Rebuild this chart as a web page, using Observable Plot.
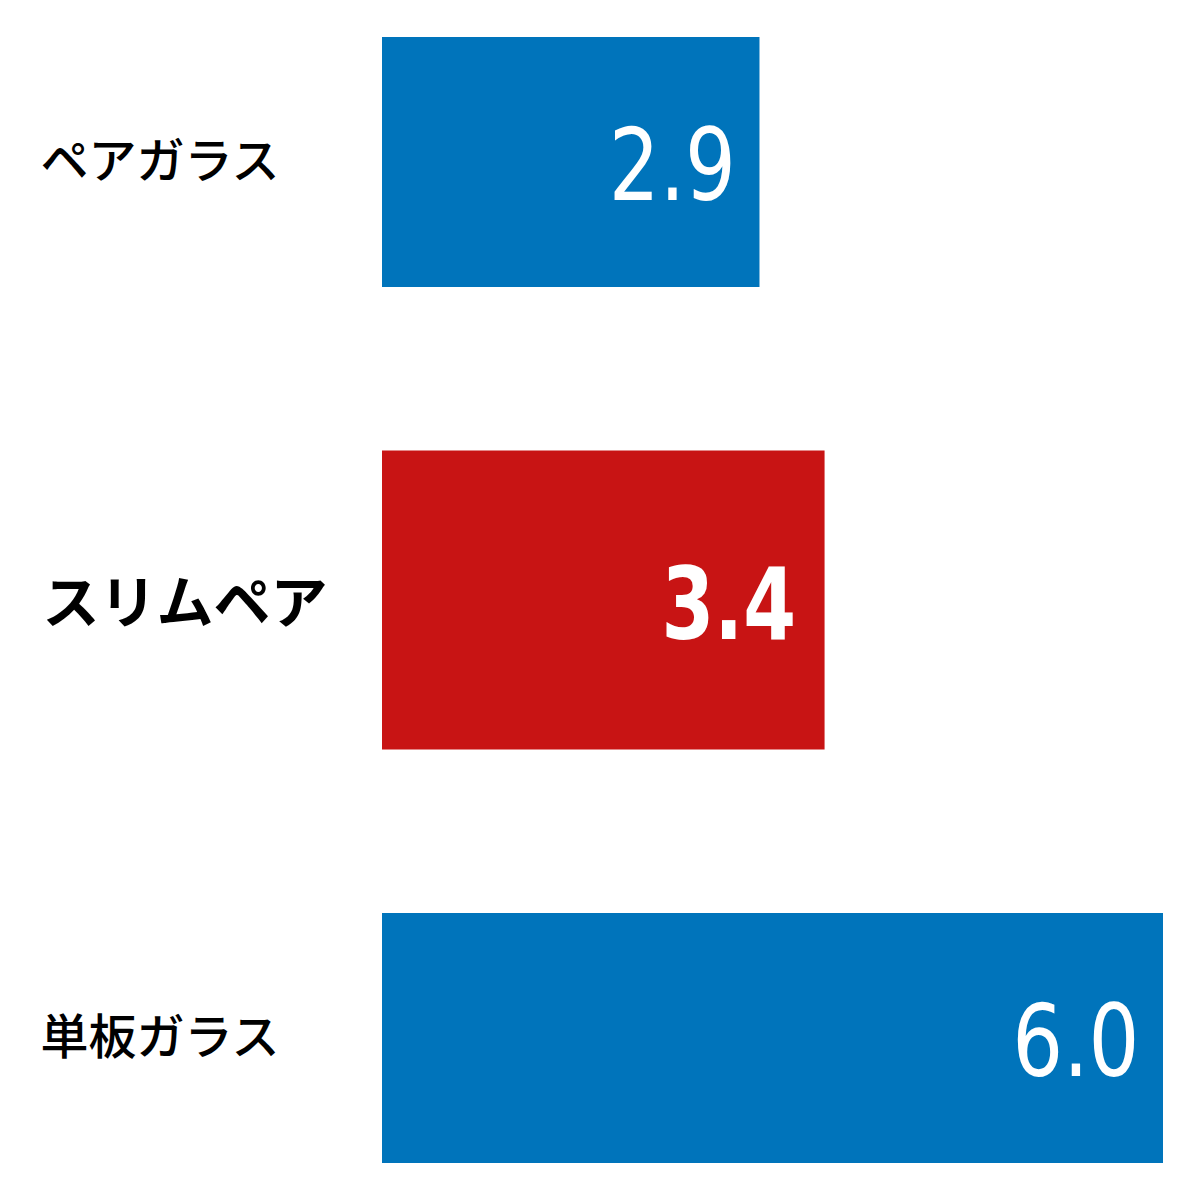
<!DOCTYPE html>
<html>
<head>
<meta charset="utf-8">
<script src="https://cdn.jsdelivr.net/npm/d3@7"></script>
<script src="https://cdn.jsdelivr.net/npm/@observablehq/plot@0.6"></script>
<style>
  html, body { margin: 0; padding: 0; background: #fff; }
  #chart { width: 1200px; height: 1200px; }
</style>
</head>
<body>
<div id="chart"></div>
<script>
const categories = ["ペアガラス", "スリムペア", "単板ガラス"];
const values = [2.9, 3.4, 6.0];
const valueLabels = ["2.9", "3.4", "6.0"];
const highlight = "スリムペア";

const data = categories.map((c, i) => ({ name: c, value: values[i], label: valueLabels[i] }));
const normal = data.filter(d => d.name !== highlight);
const hi = data.filter(d => d.name === highlight);

const blue = "#0074bb";
const red = "#c81414";

const chart = Plot.plot({
  width: 1200,
  height: 1200,
  marginLeft: 382,
  marginRight: 37,
  marginTop: 0,
  marginBottom: 0,
  style: { background: "#fff" },
  x: { domain: [0, 6], axis: null },
  y: { domain: categories, range: [-57, 1257], padding: 0, axis: null },
  marks: [
    Plot.barX(normal, { x: "value", y: "name", fill: blue, insetTop: 94, insetBottom: 94 }),
    Plot.barX(hi, { x: "value", y: "name", fill: red, insetTop: 69.5, insetBottom: 69.5 }),
    Plot.text(normal, {
      y: "name", text: "name", frameAnchor: "left", textAnchor: "start", dx: -342,
      fontSize: 48, fontFamily: "'Noto Sans CJK JP', sans-serif", fontWeight: 500, fill: "#000"
    }),
    Plot.text(hi, {
      y: "name", text: "name", frameAnchor: "left", textAnchor: "start", dx: -340, dy: 4,
      fontSize: 57, fontFamily: "'Noto Sans CJK JP', sans-serif", fontWeight: 700, fill: "#000"
    }),
    Plot.text(normal, {
      x: "value", y: "name", text: "label", textAnchor: "end", dx: -24, dy: 5,
      fontSize: 100, fontFamily: "'DejaVu Sans', sans-serif",
      fontWeight: 400, fill: "#fff", className: "vals-light"
    }),
    Plot.text(hi, {
      x: "value", y: "name", text: "label", textAnchor: "end", dx: -29, dy: 6,
      fontSize: 100, fontFamily: "'DejaVu Sans', sans-serif",
      fontWeight: 700, fill: "#fff", className: "vals-bold"
    })
  ]
});

function condense(sel, s) {
  d3.select(chart).selectAll(sel).each(function () {
    const t = this.getAttribute("transform") || "";
    const x = parseFloat(this.getAttribute("x")) || 0;
    this.setAttribute("transform", `${t} translate(${x},0) scale(${s},1) translate(${-x},0)`.trim());
  });
}
condense(".vals-light text", 0.8);
condense(".vals-bold text", 0.76);

document.getElementById("chart").appendChild(chart);
</script>
</body>
</html>
